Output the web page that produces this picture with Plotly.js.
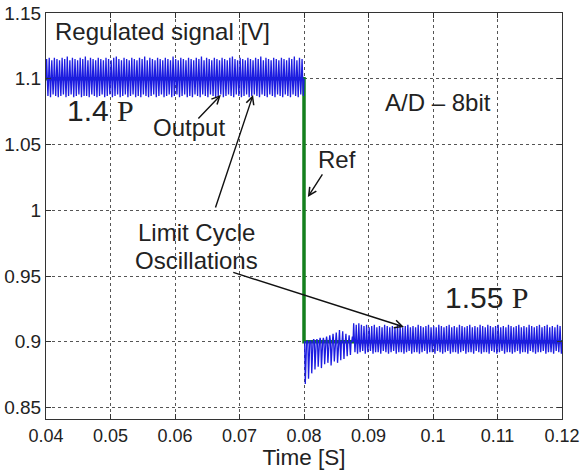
<!DOCTYPE html>
<html>
<head>
<meta charset="utf-8">
<script src="https://cdn.plot.ly/plotly-3.0.1.min.js"></script>
<style>html,body{margin:0;padding:0;background:#fff;}#chart{width:587px;height:470px;}</style>
</head>
<body>
<div id="chart"></div>
<script>
// ---- data ----
var xTickVals = [0.04, 0.05, 0.06, 0.07, 0.08, 0.09, 0.10, 0.11, 0.12];
var xTickText = ['0.04', '0.05', '0.06', '0.07', '0.08', '0.09', '0.1', '0.11', '0.12'];
var yTickVals = [0.85, 0.90, 0.95, 1.00, 1.05, 1.10, 1.15];
var yTickText = ['0.85', '0.9', '0.95', '1', '1.05', '1.1', '1.15'];

// Reference signal (step from 1.1 V to 0.9 V at 0.08 s)
var refTime = [0.04, 0.08, 0.08, 0.12];
var refValue = [1.1, 1.1, 0.9, 0.9];

// Output samples, 0.1 ms apart
var outputStart = 0.04;
var outputStep = 0.0001;
var outputBefore = [
1.100,1.115,1.100,1.087,1.100,1.116,1.100,1.086,1.100,1.114,1.100,1.088,1.100,1.116,1.100,1.087,1.100,1.115,1.100,1.086,
1.100,1.114,1.100,1.087,1.100,1.116,1.100,1.088,1.100,1.115,1.100,1.086,1.100,1.117,1.100,1.087,1.100,1.114,1.100,1.088,
1.100,1.116,1.100,1.086,1.100,1.115,1.100,1.087,1.100,1.114,1.100,1.088,1.100,1.116,1.100,1.086,1.100,1.115,1.100,1.087,
1.100,1.117,1.100,1.087,1.100,1.114,1.100,1.086,1.100,1.116,1.100,1.088,1.100,1.115,1.100,1.087,1.100,1.114,1.100,1.086,
1.100,1.116,1.100,1.087,1.100,1.115,1.100,1.088,1.100,1.114,1.100,1.086,1.100,1.116,1.100,1.087,1.100,1.115,1.100,1.088,
1.100,1.114,1.100,1.086,1.100,1.116,1.100,1.087,1.100,1.117,1.100,1.088,1.100,1.115,1.100,1.086,1.100,1.114,1.100,1.087,
1.100,1.116,1.100,1.088,1.100,1.115,1.100,1.086,1.100,1.114,1.100,1.087,1.100,1.116,1.100,1.088,1.100,1.115,1.100,1.086,
1.100,1.114,1.100,1.087,1.100,1.116,1.100,1.086,1.100,1.115,1.100,1.088,1.100,1.117,1.100,1.087,1.100,1.114,1.100,1.086,
1.100,1.116,1.100,1.087,1.100,1.115,1.100,1.088,1.100,1.114,1.100,1.086,1.100,1.116,1.100,1.087,1.100,1.115,1.100,1.088,
1.100,1.114,1.100,1.086,1.100,1.116,1.100,1.087,1.100,1.115,1.100,1.088,1.100,1.114,1.100,1.086,1.100,1.117,1.100,1.087,
1.100,1.115,1.100,1.088,1.100,1.114,1.100,1.086,1.100,1.116,1.100,1.087,1.100,1.115,1.100,1.088,1.100,1.114,1.100,1.086,
1.100,1.116,1.100,1.087,1.100,1.115,1.100,1.086,1.100,1.114,1.100,1.088,1.100,1.116,1.100,1.087,1.100,1.115,1.100,1.086,
1.100,1.117,1.100,1.088,1.100,1.114,1.100,1.087,1.100,1.116,1.100,1.086,1.100,1.115,1.100,1.088,1.100,1.114,1.100,1.087,
1.100,1.116,1.100,1.086,1.100,1.115,1.100,1.087,1.100,1.114,1.100,1.088,1.100,1.116,1.100,1.086,1.100,1.115,1.100,1.087,
1.100,1.114,1.100,1.088,1.100,1.116,1.100,1.087,1.100,1.117,1.100,1.086,1.100,1.115,1.100,1.088,1.100,1.114,1.100,1.087,
1.100,1.116,1.100,1.086,1.100,1.115,1.100,1.087,1.100,1.114,1.100,1.088,1.100,1.116,1.100,1.086,1.100,1.115,1.100,1.087,
1.100,1.114,1.100,1.088,1.100,1.116,1.100,1.087,1.100,1.115,1.100,1.086,1.100,1.117,1.100,1.088,1.100,1.114,1.100,1.087,
1.100,1.116,1.100,1.086,1.100,1.115,1.100,1.088,1.100,1.114,1.100,1.087,1.100,1.116,1.100,1.086,1.100,1.115,1.100,1.088,
1.100,1.114,1.100,1.087,1.100,1.116,1.100,1.086,1.100,1.115,1.100,1.088,1.100,1.114,1.100,1.087,1.100,1.116,1.100,1.086,
1.100,1.115,1.100,1.088,1.100,1.117,1.100,1.087,1.100,1.114,1.100,1.086,1.100,1.116,1.100,1.088,1.100,1.115,1.100,1.087,
1.100
];
var afterStart = 0.08;
var outputTransient = [
0.900,0.900,0.868,0.900,0.900,0.901,0.900,0.872,0.900,0.900,0.901,0.900,0.876,0.900,0.900,0.902,0.900,0.879,0.900,0.900,
0.902,0.900,0.881,0.900,0.900,0.903,0.900,0.880,0.900,0.900,0.903,0.900,0.883,0.900,0.900,0.904,0.900,0.884,0.900,0.900,
0.905,0.900,0.882,0.900,0.900,0.906,0.900,0.885,0.900,0.900,0.907,0.900,0.884,0.900,0.900,0.909,0.900,0.886,0.900,0.900,
0.908,0.900,0.887,0.900,0.900,0.906,0.900,0.889,0.900,0.900,0.905,0.900,0.890,0.900,0.900,0.904
];
var outputLimitCycle = [
0.900,0.914,0.900,0.892,0.900,0.913,0.900,0.891,0.900,0.914,0.900,0.892,0.900,0.913,0.900,0.893,0.900,0.912,0.900,0.891,
0.900,0.913,0.900,0.892,0.900,0.911,0.900,0.893,0.900,0.912,0.900,0.891,0.900,0.913,0.900,0.892,0.900,0.911,0.900,0.892,
0.900,0.912,0.900,0.891,0.900,0.911,0.900,0.893,0.900,0.913,0.900,0.892,0.900,0.912,0.900,0.891,0.900,0.911,0.900,0.892,
0.900,0.912,0.900,0.893,0.900,0.911,0.900,0.891,0.900,0.913,0.900,0.892,0.900,0.912,0.900,0.892,0.900,0.911,0.900,0.891,
0.900,0.912,0.900,0.892,0.900,0.913,0.900,0.893,0.900,0.911,0.900,0.891,0.900,0.912,0.900,0.892,0.900,0.911,0.900,0.892,
0.900,0.913,0.900,0.891,0.900,0.912,0.900,0.892,0.900,0.911,0.900,0.893,0.900,0.912,0.900,0.891,0.900,0.913,0.900,0.892,
0.900,0.911,0.900,0.892,0.900,0.912,0.900,0.891,0.900,0.911,0.900,0.893,0.900,0.913,0.900,0.892,0.900,0.912,0.900,0.891,
0.900,0.911,0.900,0.892,0.900,0.912,0.900,0.893,0.900,0.913,0.900,0.891,0.900,0.911,0.900,0.892,0.900,0.912,0.900,0.892,
0.900,0.911,0.900,0.891,0.900,0.913,0.900,0.892,0.900,0.912,0.900,0.893,0.900,0.911,0.900,0.891,0.900,0.912,0.900,0.892,
0.900,0.913,0.900,0.892,0.900,0.911,0.900,0.891,0.900,0.912,0.900,0.893,0.900,0.911,0.900,0.892,0.900,0.913,0.900,0.891,
0.900,0.912,0.900,0.892,0.900,0.911,0.900,0.892,0.900,0.913,0.900,0.891,0.900,0.912,0.900,0.893,0.900,0.911,0.900,0.892,
0.900,0.912,0.900,0.891,0.900,0.913,0.900,0.892,0.900,0.911,0.900,0.893,0.900,0.912,0.900,0.891,0.900,0.911,0.900,0.892,
0.900,0.913,0.900,0.892,0.900,0.912,0.900,0.891,0.900,0.911,0.900,0.892,0.900,0.912,0.900,0.893,0.900,0.913,0.900,0.891,
0.900,0.911,0.900,0.892,0.900,0.912,0.900,0.892,0.900,0.911,0.900,0.891,0.900,0.913,0.900,0.893,0.900,0.912,0.900,0.892,
0.900,0.911,0.900,0.891,0.900,0.912,0.900,0.892,0.900,0.913,0.900,0.892,0.900,0.911,0.900,0.893,0.900,0.912,0.900,0.891,
0.900,0.913,0.900,0.892,0.900,0.911,0.900,0.892,0.900,0.912,0.900,0.891,0.900,0.911,0.900,0.893,0.900,0.913,0.900,0.892,
0.900,0.912,0.900,0.891,
0.900
];

// ---- figure ----
var blue = 'rgb(28,28,225)';
var green = 'rgb(20,128,30)';
var afterValues = outputTransient.concat(outputLimitCycle);

var traces = [
  {type: 'scatter', mode: 'lines', name: 'Ref', x: refTime, y: refValue,
   line: {color: green, width: 3.5}, hoverinfo: 'skip'},
  {type: 'scatter', mode: 'lines', name: 'Output', x0: outputStart, dx: outputStep, y: outputBefore,
   line: {color: blue, width: 1.3}, hoverinfo: 'skip'},
  {type: 'scatter', mode: 'lines', name: 'Output', x0: afterStart, dx: outputStep, y: afterValues,
   line: {color: blue, width: 1.3}, hoverinfo: 'skip'}
];

var FAM = 'Arial, Liberation Sans, sans-serif';
var tickFont = {family: FAM, size: 18, color: '#222'};
var annFont = {family: FAM, size: 24, color: '#222'};
var bigFont = {family: FAM, size: 30, color: '#222'};
var serifP = '<span style="font-family:\'Liberation Serif\', \'Times New Roman\', serif">P</span>';

function label(text, x, y, font) {
  return {text: text, x: x, y: y, xref: 'x', yref: 'y', xanchor: 'left', yanchor: 'middle',
          showarrow: false, font: font};
}
function arrow(xHead, yHead, xTail, yTail) {
  return {text: '', x: xHead, y: yHead, ax: xTail, ay: yTail, xref: 'x', yref: 'y',
          axref: 'x', ayref: 'y', showarrow: true, arrowhead: 5, arrowsize: 1.1,
          arrowwidth: 1.4, arrowcolor: '#111'};
}

var layout = {
  width: 587, height: 470,
  margin: {l: 46, r: 25, t: 13, b: 51, pad: 0},
  paper_bgcolor: '#fff', plot_bgcolor: '#fff',
  showlegend: false,
  xaxis: {
    range: [0.04, 0.12], tickmode: 'array', tickvals: xTickVals, ticktext: xTickText,
    ticks: 'inside', ticklen: 5, tickcolor: '#333', showline: true, linecolor: '#333', linewidth: 1,
    mirror: 'ticks', showgrid: true, gridcolor: '#555', gridwidth: 1, griddash: 'dot',
    zeroline: false, tickfont: tickFont, automargin: false,
    title: {text: 'Time [S]', font: {family: FAM, size: 22.5, color: '#222'}, standoff: 4}
  },
  yaxis: {
    range: [0.8413, 1.15], tickmode: 'array', tickvals: yTickVals, ticktext: yTickText,
    ticks: 'inside', ticklen: 5, tickcolor: '#333', showline: true, linecolor: '#333', linewidth: 1,
    mirror: 'ticks', showgrid: true, gridcolor: '#555', gridwidth: 1, griddash: 'dot',
    zeroline: false, tickfont: {family: FAM, size: 19, color: '#222'}, automargin: false
  },
  annotations: [
    label('Regulated signal [V]', 0.0411, 1.1363, annFont),
    label('1.4 ' + serifP, 0.0430, 1.0755, bigFont),
    label('Output', 0.0563, 1.0626, annFont),
    label('A/D \u2013 8bit', 0.0923, 1.0816, annFont),
    label('Ref', 0.0818, 1.0383, annFont),
    label('Limit Cycle', 0.0539, 0.9830, annFont),
    label('Oscillations', 0.0535, 0.9620, annFont),
    label('1.55 ' + serifP, 0.1016, 0.9334, bigFont),
    arrow(0.0671, 1.0877, 0.0634, 1.0687),
    arrow(0.0721, 1.0877, 0.0662, 1.0010),
    arrow(0.0806, 1.0101, 0.0830, 1.0284),
    arrow(0.0955, 0.9113, 0.0688, 0.9531)
  ]
};

Plotly.newPlot('chart', traces, layout, {staticPlot: true, displayModeBar: false});
</script>
</body>
</html>
